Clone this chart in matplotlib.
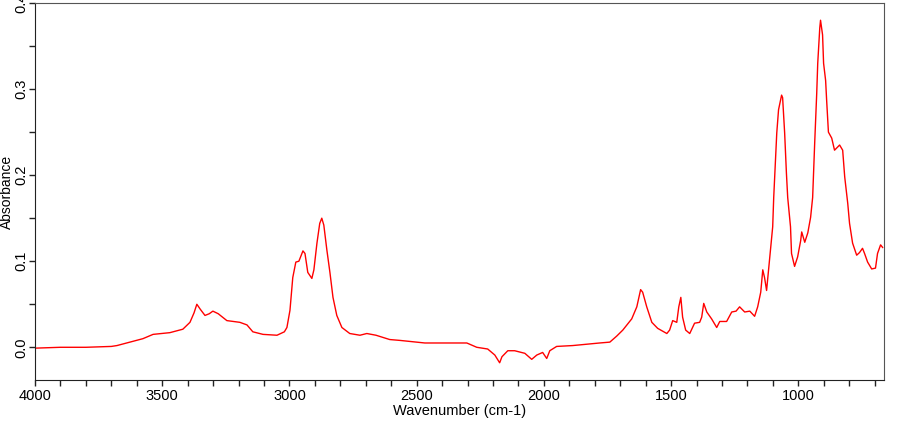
import numpy as np
import matplotlib.pyplot as plt
from matplotlib.ticker import MultipleLocator

plt.rcParams['font.family'] = ['Liberation Sans', 'DejaVu Sans']

# spectrum (wavenumber, absorbance)
wavenumber = [4000, 3900, 3800, 3700, 3678, 3627, 3576, 3536, 3470, 3419, 3391, 3375,
              3364, 3350, 3332, 3315, 3301, 3280, 3246, 3195, 3167, 3144, 3104, 3049,
              3020, 3010, 2998, 2987, 2975, 2963, 2947, 2939, 2928, 2912, 2904, 2892,
              2881, 2873, 2865, 2853, 2841, 2829, 2814, 2794, 2763, 2723, 2696, 2660,
              2606, 2566, 2468, 2303, 2264, 2221, 2193, 2174, 2165, 2142, 2115, 2075,
              2048, 2028, 2005, 1989, 1977, 1950, 1887, 1781, 1741, 1714, 1690, 1655,
              1635, 1620, 1612, 1596, 1576, 1553, 1517, 1506, 1494, 1478, 1470, 1462,
              1455, 1443, 1427, 1408, 1388, 1380, 1372, 1360, 1341, 1321, 1309, 1282,
              1262, 1245, 1231, 1211, 1191, 1172, 1160, 1148, 1140, 1133, 1125, 1113,
              1101, 1097, 1089, 1085, 1078, 1066, 1062, 1054, 1047, 1042, 1031, 1027,
              1015, 1003, 991, 987, 975, 963, 952, 944, 936, 928, 924, 916, 913, 905,
              901, 893, 889, 882, 869, 858, 838, 826, 818, 806, 799, 787, 771, 760,
              748, 740, 728, 712, 697, 689, 677, 669]
absorbance = [-0.001, 0.000, 0.000, 0.001, 0.002, 0.006, 0.010, 0.015, 0.017, 0.021, 0.029, 0.040,
              0.050, 0.044, 0.037, 0.039, 0.042, 0.039, 0.031, 0.029, 0.026, 0.018, 0.015, 0.014,
              0.018, 0.023, 0.043, 0.081, 0.099, 0.100, 0.112, 0.109, 0.087, 0.080, 0.090, 0.121,
              0.144, 0.150, 0.142, 0.113, 0.087, 0.058, 0.037, 0.023, 0.016, 0.014, 0.016, 0.014,
              0.009, 0.008, 0.005, 0.005, 0.000, -0.002, -0.009, -0.018, -0.011, -0.004, -0.004, -0.007,
              -0.014, -0.009, -0.006, -0.013, -0.004, 0.001, 0.002, 0.005, 0.006, 0.013, 0.020, 0.033,
              0.047, 0.067, 0.064, 0.047, 0.029, 0.022, 0.016, 0.020, 0.031, 0.029, 0.047, 0.058,
              0.035, 0.020, 0.016, 0.028, 0.029, 0.035, 0.051, 0.041, 0.033, 0.023, 0.030, 0.030,
              0.041, 0.042, 0.047, 0.041, 0.042, 0.036, 0.047, 0.064, 0.090, 0.081, 0.066, 0.103,
              0.140, 0.174, 0.225, 0.249, 0.276, 0.293, 0.290, 0.249, 0.202, 0.174, 0.140, 0.109,
              0.094, 0.105, 0.124, 0.134, 0.122, 0.133, 0.151, 0.174, 0.237, 0.295, 0.330, 0.371, 0.380, 0.363,
              0.330, 0.310, 0.287, 0.250, 0.243, 0.229, 0.235, 0.229, 0.198, 0.167, 0.144, 0.121, 0.107, 0.110,
              0.115, 0.109, 0.099, 0.091, 0.092, 0.109, 0.119, 0.116]
xticks = [4000, 3500, 3000, 2500, 2000, 1500, 1000]
yticks = [0.0, 0.1, 0.2, 0.3, 0.4]

fig = plt.figure(figsize=(9.09, 4.25), dpi=100)
ax = fig.add_axes([0.0385, 0.1059, 0.9336, 0.887])

ax.plot(wavenumber, absorbance, color='red', lw=1.0)

ax.set_xlim(4000, 665)
ax.set_ylim(-0.038, 0.4)
ax.set_xticks(xticks)
ax.set_xticklabels([str(t) for t in xticks])
ax.xaxis.set_minor_locator(MultipleLocator(100))
ax.set_yticks(yticks)
ax.set_yticklabels(['%.1f' % t for t in yticks], rotation=90, va='center')
ax.yaxis.set_minor_locator(MultipleLocator(0.05))

ax.tick_params(which='both', direction='out', length=4.5, width=1, labelsize=10.5, color='#222222')
ax.tick_params(axis='x', pad=2)
ax.tick_params(axis='y', pad=0)

ax.set_xlabel('Wavenumber (cm-1)', fontsize=10.5, labelpad=1)
ax.set_ylabel('Absorbance', fontsize=10, va='center')
ax.yaxis.set_label_coords(-0.033, 0.5)

for side in ['left', 'bottom']:
    ax.spines[side].set_color('#222222')
for side in ['top', 'right']:
    ax.spines[side].set_color('#555555')

fig.savefig('out.png', dpi=100)
